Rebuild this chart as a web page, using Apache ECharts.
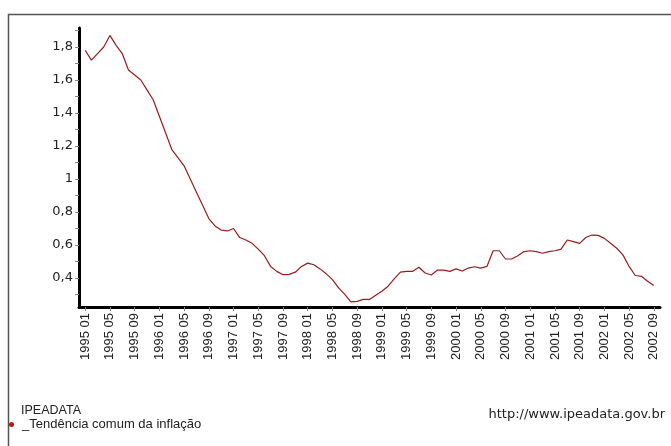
<!DOCTYPE html>
<html>
<head>
<meta charset="utf-8">
<script src="https://cdn.jsdelivr.net/npm/echarts@6/dist/echarts.min.js"></script>
<style>html,body{margin:0;padding:0;background:#fff;}#c{width:671px;height:446px;}</style>
</head>
<body>
<div id="c"></div>
<script>
// Monthly categories: 1994 12 .. 2002 10 (axis padding at both ends)
const categories = [];
(function(){
  categories.push('1994 12');
  for (let y = 1995; y <= 2002; y++) {
    for (let m = 1; m <= 12; m++) {
      if (y === 2002 && m > 10) break;
      categories.push(y + ' ' + (m < 10 ? '0' + m : '' + m));
    }
  }
})();

// Series values from 1995 01 to 2002 09
const trendValues = [
  1.78, 1.72, 1.76, 1.80, 1.87, 1.81, 1.76, 1.66, 1.63, 1.60, 1.54, 1.48,
  1.38, 1.28, 1.18, 1.13, 1.08, 1.00, 0.92, 0.84, 0.76, 0.715, 0.69, 0.685,
  0.70, 0.645, 0.63, 0.61, 0.575, 0.535, 0.47, 0.44, 0.42, 0.422, 0.435, 0.47,
  0.49, 0.48, 0.455, 0.425, 0.39, 0.34, 0.30, 0.255, 0.258, 0.27, 0.27, 0.295,
  0.32, 0.35, 0.395, 0.435, 0.44, 0.44, 0.465, 0.43, 0.418, 0.448, 0.448, 0.44,
  0.455, 0.442, 0.46, 0.468, 0.46, 0.47, 0.565, 0.565, 0.515, 0.515, 0.535, 0.56,
  0.565, 0.56, 0.55, 0.56, 0.565, 0.575, 0.63, 0.62, 0.61, 0.645, 0.66, 0.658,
  0.64, 0.61, 0.58, 0.54, 0.47, 0.415, 0.41, 0.38, 0.355
];

const yLabelValues = [0.4, 0.6, 0.8, 1.0, 1.2, 1.4, 1.6, 1.8];
const yTickValues = [0.3, 0.4, 0.5, 0.6, 0.7, 0.8, 0.9, 1.0, 1.1, 1.2, 1.3, 1.4, 1.5, 1.6, 1.7, 1.8, 1.9];

const seriesName = '_Tendência comum da inflação';
const sourceName = 'IPEADATA';
const sourceUrl = 'http://www.ipeadata.gov.br';

// Align data to categories (first category is padding)
const seriesData = categories.map((c, i) => {
  const k = i - 1;
  return (k >= 0 && k < trendValues.length) ? trendValues[k] : null;
});

const labelEvery = (idx) => idx >= 1 && (idx - 1) % 4 === 0;
const wideFont = 'DejaVu Sans, Verdana, sans-serif';
const narrowFont = 'Liberation Sans, Arial, sans-serif';

const chart = echarts.init(document.getElementById('c'), null, {renderer: 'canvas'});
chart.setOption({
  animation: false,
  backgroundColor: '#ffffff',
  textStyle: {fontFamily: narrowFont},
  grid: {left: 79, top: 28, right: 11, bottom: 139, containLabel: false},
  xAxis: {
    type: 'category',
    data: categories,
    boundaryGap: false,
    axisLine: {lineStyle: {color: '#000', width: 3}},
    axisTick: {show: true, interval: (i) => labelEvery(i), length: 4, lineStyle: {color: '#888'}},
    axisLabel: {
      interval: (i) => labelEvery(i),
      rotate: 90,
      margin: 6,
      fontSize: 13,
      color: '#222',
      fontFamily: narrowFont
    },
    splitLine: {show: false}
  },
  yAxis: {
    type: 'value',
    min: 0.224,
    max: 1.915,
    axisLine: {show: true, lineStyle: {color: '#000', width: 3}},
    axisTick: {show: true, customValues: yTickValues, length: 4, lineStyle: {color: '#888'}},
    axisLabel: {
      customValues: yLabelValues,
      formatter: (v) => (Math.round(v * 10) / 10).toString().replace('.', ','),
      fontSize: 13,
      color: '#222',
      margin: 6,
      fontFamily: wideFont
    },
    splitLine: {show: false}
  },
  legend: {
    show: true,
    left: 9,
    top: 418,
    orient: 'vertical',
    icon: 'circle',
    itemWidth: 5,
    itemHeight: 5,
    itemGap: 0,
    padding: 0,
    textStyle: {fontSize: 13, color: '#222', padding: [0, 0, 0, 3], fontFamily: narrowFont},
    data: [{name: seriesName, itemStyle: {color: '#cc1010'}}]
  },
  title: {
    text: sourceName,
    left: 21,
    top: 404,
    padding: 0,
    textStyle: {fontSize: 12.5, fontWeight: 'normal', color: '#222', fontFamily: narrowFont}
  },
  graphic: [
    {
      type: 'rect',
      silent: true,
      shape: {x: 8.5, y: 14.5, width: 700, height: 500},
      style: {fill: 'none', stroke: '#555', lineWidth: 1.5}
    },
    {
      type: 'text',
      right: 6,
      top: 408,
      style: {text: sourceUrl, fontSize: 13, fill: '#222', fontFamily: wideFont}
    }
  ],
  series: [{
    name: seriesName,
    type: 'line',
    data: seriesData,
    showSymbol: false,
    symbol: 'none',
    connectNulls: false,
    lineStyle: {color: '#9a1c1c', width: 1.2},
    itemStyle: {color: '#9a1c1c'}
  }]
});
</script>
</body>
</html>
